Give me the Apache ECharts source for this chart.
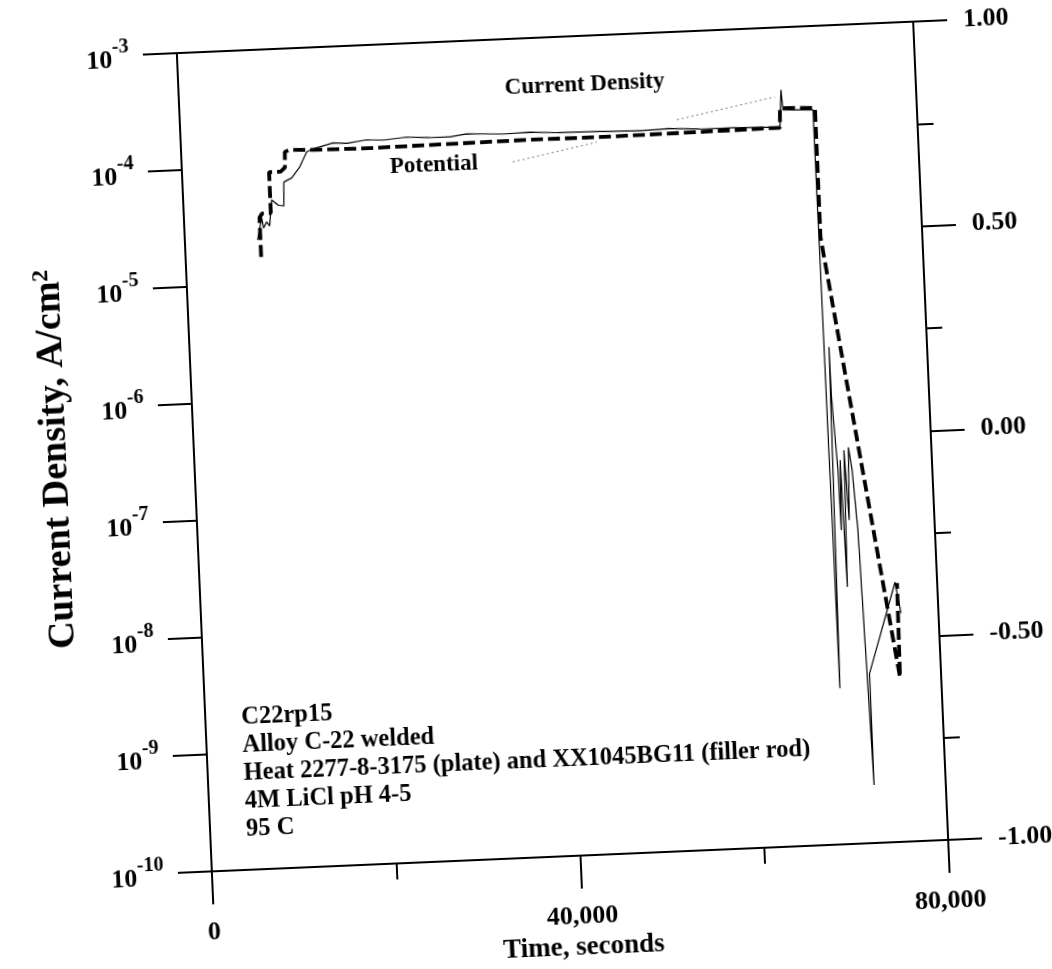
<!DOCTYPE html>
<html>
<head>
<meta charset="utf-8">
<script src="https://cdn.jsdelivr.net/npm/echarts/dist/echarts.min.js"></script>
<style>
  html, body { margin: 0; padding: 0; background: #fff; overflow: hidden; }
  #chart {
    width: 1052px; height: 969px;
    transform-origin: 562.75px 446.5px;
    transform: rotate(-2.45deg);
  }
</style>
</head>
<body>
<div id="chart"></div>
<script>
// C22rp15 potentiostatic hold: current density (left, log) and potential (right)

// Current density record, time in seconds and A/cm^2
const timeCD = [
  7897, 8433, 8603, 8957, 9263, 9601, 10300, 10900, 11000, 11873, 12793, 13622, 14288,
  16500, 18000, 20189, 22000, 24500, 27000, 29209, 31000, 32803, 35000, 38000, 41000,
  45503, 50000, 53000, 56369, 60000, 63000, 65060, 65344, 65469, 68724,
  68971, 69361, 69400, 69766, 69850, 70050, 70250, 70500, 70750, 71000, 71300, 71650,
  72230, 72240, 75431, 75937
];
const currentDensity = [
  2.37e-5, 3.65e-5, 2.99e-5, 3.36e-5, 3.09e-5, 5.15e-5, 4.62e-5, 4.53e-5, 7.24e-5, 7.8e-5, 9.6e-5, 1.285e-4, 1.355e-4,
  1.50e-4, 1.47e-4, 1.55e-4, 1.52e-4, 1.58e-4, 1.54e-4, 1.53e-4, 1.60e-4, 1.58e-4, 1.55e-4, 1.57e-4, 1.52e-4,
  1.50e-4, 1.47e-4, 1.50e-4, 1.45e-4, 1.44e-4, 1.42e-4, 1.40e-4, 2.92e-4, 1.97e-4, 1.92e-4,
  2.17e-9, 1.79e-6, 6.68e-7, 1.58e-7, 4.84e-8, 1.91e-7, 1.57e-8, 2.32e-7, 5.86e-8, 2.45e-7, 1.56e-7, 4.77e-8,
  3.13e-10, 2.8e-9, 1.66e-8, 9.0e-9
];

// Potential record, time in seconds and volts
const timeE = [
  8200, 8200, 8500, 9450, 9450, 10700, 11200, 11250, 11787, 13958,
  20000, 29176, 38000, 45485, 55000, 65060, 65152, 68950, 68950, 75532, 75643
];
const potential = [
  0.494, 0.590, 0.600, 0.600, 0.700, 0.700, 0.710, 0.748, 0.752, 0.750,
  0.748, 0.750, 0.752, 0.751, 0.753, 0.755, 0.803, 0.800, 0.484, -0.598, -0.368
];

// Dotted leaders from the curve labels, in data units (time, A/cm^2)
const leaderPotential = [[35929, 8.87e-5], [45137, 1.22e-4]];
const leaderCurrent = [[53920, 1.77e-4], [64660, 2.56e-4]];

// Axis ranges and tick spacing
const timeRange = [0, 80000];
const timeMajor = 40000;
const cdRange = [1e-10, 1e-3];
const eRange = [-1, 1];
const eMajor = 0.5;

const sampleNotes = [
  'C22rp15',
  'Alloy C-22 welded',
  'Heat 2277-8-3175 (plate) and XX1045BG11 (filler rod)',
  '4M LiCl pH 4-5',
  '95 C'
];

const FONT = '"Liberation Serif", "Times New Roman", serif';
const AXIS = { color: '#000', width: 2 };
const zip = (xs, ys) => xs.map((x, i) => [x, ys[i]]);

const chart = echarts.init(document.getElementById('chart'), null, { renderer: 'canvas' });

const labelStyle = { fontFamily: FONT, fontWeight: 'bold', fontSize: 26, color: '#000' };

const option = {
  animation: false,
  backgroundColor: '#fff',
  grid: { left: 194, top: 37, width: 737, height: 819, show: false },
  xAxis: [
    {
      type: 'value', position: 'bottom',
      min: timeRange[0], max: timeRange[1], interval: timeMajor,
      axisLine: { show: true, onZero: false, lineStyle: AXIS },
      axisTick: { show: true, inside: false, length: 33, lineStyle: AXIS },
      minorTick: { show: true, splitNumber: 2, length: 16, lineStyle: AXIS },
      splitLine: { show: false },
      axisLabel: Object.assign({ margin: 48, formatter: v => v.toLocaleString('en-US') }, labelStyle),
      name: 'Time, seconds', nameLocation: 'middle', nameGap: 78,
      nameTextStyle: { fontFamily: FONT, fontWeight: 'bold', fontSize: 27, color: '#000' }
    },
    {
      type: 'value', position: 'top',
      min: timeRange[0], max: timeRange[1],
      axisLine: { show: true, onZero: false, lineStyle: AXIS },
      axisTick: { show: false }, axisLabel: { show: false }, splitLine: { show: false }
    }
  ],
  yAxis: [
    {
      type: 'log', logBase: 10, position: 'left',
      min: cdRange[0], max: cdRange[1], splitNumber: 7,
      axisLine: { show: true, onZero: false, lineStyle: AXIS },
      axisTick: { show: true, inside: false, length: 34, lineStyle: AXIS },
      minorTick: { show: false },
      splitLine: { show: false },
      axisLabel: {
        margin: 48,
        formatter: v => '{b|10}{s|' + Math.round(Math.log10(v)) + '}',
        rich: {
          b: { fontFamily: FONT, fontWeight: 'bold', fontSize: 26, color: '#000', lineHeight: 36, verticalAlign: 'bottom' },
          s: { fontFamily: FONT, fontWeight: 'bold', fontSize: 20, color: '#000', lineHeight: 20, verticalAlign: 'top' }
        }
      },
      name: 'Current Density, A/cm{s|2}', nameLocation: 'middle', nameGap: 119,
      nameTextStyle: {
        fontFamily: FONT, fontWeight: 'bold', fontSize: 38, color: '#000',
        padding: [0, 0, 0, 18],
        rich: {
          s: { fontFamily: FONT, fontWeight: 'bold', fontSize: 24, color: '#000', verticalAlign: 'top', lineHeight: 24 }
        }
      }
    },
    {
      type: 'value', position: 'right',
      min: eRange[0], max: eRange[1], interval: eMajor,
      axisLine: { show: true, onZero: false, lineStyle: AXIS },
      axisTick: { show: true, inside: false, length: 34, lineStyle: AXIS },
      minorTick: { show: true, splitNumber: 2, length: 16, lineStyle: AXIS },
      splitLine: { show: false },
      axisLabel: Object.assign({ margin: 50, formatter: v => v.toFixed(2) }, labelStyle)
    }
  ],
  graphic: [
    {
      type: 'text', x: 600, y: 86,
      style: { text: 'Current Density', font: 'bold 23px ' + FONT, fill: '#000', align: 'center', verticalAlign: 'middle' }
    },
    {
      type: 'text', x: 446, y: 160,
      style: { text: 'Potential', font: 'bold 23px ' + FONT, fill: '#000', align: 'center', verticalAlign: 'middle' }
    },
    {
      type: 'text', x: 230, y: 690,
      style: { text: sampleNotes.join('\n'), font: 'bold 24.5px ' + FONT, lineHeight: 28, fill: '#000', align: 'left', verticalAlign: 'top' }
    }
  ],
  series: [
    {
      name: 'Current Density', type: 'line', xAxisIndex: 0, yAxisIndex: 0,
      data: zip(timeCD, currentDensity),
      showSymbol: false, symbol: 'none',
      lineStyle: { color: '#000', width: 1.2 }
    },
    {
      name: 'Potential', type: 'line', xAxisIndex: 0, yAxisIndex: 1,
      data: zip(timeE, potential),
      showSymbol: false, symbol: 'none',
      lineStyle: { color: '#000', width: 3.8, type: [12, 5], cap: 'butt' }
    },
    {
      name: 'leader-potential', type: 'line', xAxisIndex: 0, yAxisIndex: 0,
      data: leaderPotential, symbol: 'none', silent: true,
      lineStyle: { color: '#777', width: 1, type: [2, 3] }
    },
    {
      name: 'leader-current', type: 'line', xAxisIndex: 0, yAxisIndex: 0,
      data: leaderCurrent, symbol: 'none', silent: true,
      lineStyle: { color: '#777', width: 1, type: [2, 3] }
    }
  ]
};

chart.setOption(option);
</script>
</body>
</html>
